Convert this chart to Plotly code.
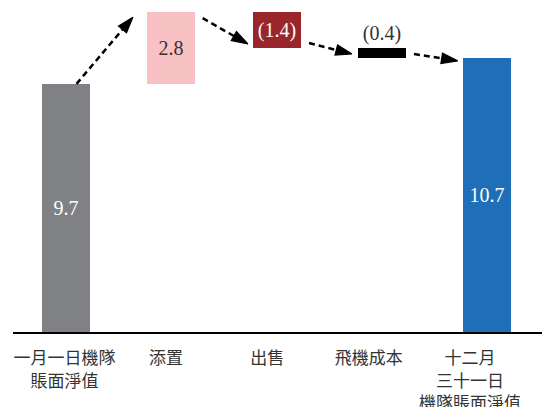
import plotly.graph_objects as go
import numpy as np

categories = ["一月一日機隊<br>賬面淨值", "添置", "出售", "飛機成本", "十二月<br>三十一日<br>機隊賬面淨值"]
values = [9.7, 2.8, -1.4, -0.4, 10.7]
measures = ["absolute", "relative", "relative", "relative", "total"]
value_labels = ["9.7", "2.8", "(1.4)", "(0.4)", "10.7"]

colors = ["#808184", "#F8C1C3", "#98262B", "#000000", "#1F6FB8"]
text_colors = ["white", "#333333", "white", "#333333", "white"]
text_pos = ["inside", "inside", "inside", "outside", "inside"]

# waterfall geometry from the values
bases, heights, levels = [], [], []
level = 0.0
for v, m in zip(values, measures):
    if m in ("absolute", "total"):
        bases.append(0.0); heights.append(v); level = v
    else:
        if v >= 0:
            bases.append(level); heights.append(v)
        else:
            bases.append(level + v); heights.append(-v)
        level += v
    levels.append(level)

x = np.arange(len(values))
bar_w = 0.456

fig = go.Figure()
fig.add_trace(go.Bar(
    x=x, y=heights, base=bases, width=bar_w,
    marker=dict(color=colors, line=dict(width=0)),
    text=value_labels, textposition=text_pos, insidetextanchor="middle",
    textfont=dict(color=text_colors, size=20, family="Liberation Serif"),
    constraintext="none", cliponaxis=False, showlegend=False, hoverinfo="skip",
))

# dashed connector arrows
start_dx = [0.10, 0.07, 0.08, 0.077]
end_dx = [0.136, 0.044, 0.056, 0.052]
start_dy = [0.0, -0.23, 0.2, 0.17]
end_dy = [-0.19, 0.16, 0.17, -0.1]
for i in range(len(values) - 1):
    if i == 0:
        x0 = x[i] + start_dx[i]
    else:
        x0 = x[i] + bar_w / 2 + start_dx[i]
    y0 = levels[i] + start_dy[i]
    x1 = x[i + 1] - bar_w / 2 - end_dx[i]
    y1 = levels[i + 1] + end_dy[i]
    fig.add_trace(go.Scatter(
        x=[x0, x1], y=[y0, y1], mode="lines+markers",
        line=dict(color="black", width=2.5, dash="6px,4px"),
        marker=dict(symbol=["circle", "arrow"], size=[0, 17], angleref="previous",
                    color="black", opacity=1, line=dict(width=1.2, color="black")),
        opacity=1, showlegend=False, hoverinfo="skip", cliponaxis=False,
    ))

fig.update_layout(
    width=542, height=407,
    margin=dict(l=13, r=0, t=0, b=75),
    plot_bgcolor="white", paper_bgcolor="white",
    font=dict(family="Liberation Serif, Noto Sans CJK TC", color="#333333"),
    bargap=0,
)
fig.update_xaxes(
    range=[-0.503, 4.521],
    tickvals=[i * 0.963 - 0.014 for i in range(len(categories))],
    ticktext=categories,
    tickfont=dict(size=17, family="Liberation Serif, Noto Sans CJK TC", color="#333333"),
    showgrid=False, zeroline=False, showline=True, linecolor="black", linewidth=2,
    ticks="", ticklabelstandoff=10, automargin=False, fixedrange=True,
)
fig.update_yaxes(range=[0, 12.98], visible=False, fixedrange=True, automargin=False)

fig.write_html("out.html", config={"displayModeBar": False},
               post_script="document.body.style.margin='0';document.body.style.padding='0';")
